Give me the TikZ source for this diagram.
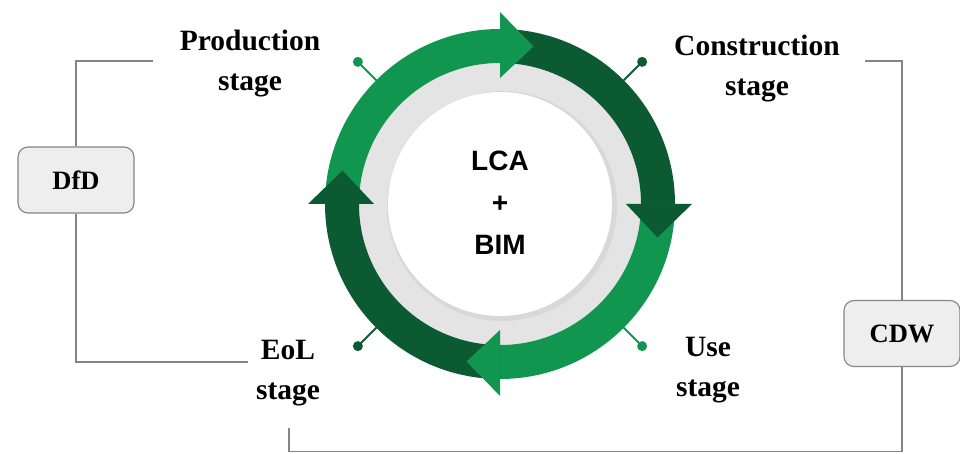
\documentclass[tikz,border=0pt]{standalone}
\usepackage{fontspec}
\setmainfont{Liberation Serif}
\newfontfamily\lsans{Liberation Sans}
\definecolor{lgreen}{HTML}{11964F}
\definecolor{dgreen}{HTML}{0B5A32}
\definecolor{ringgray}{HTML}{E4E4E4}
\definecolor{linegray}{HTML}{858585}
\definecolor{boxfill}{HTML}{EEEEEE}
\tikzset{
  stagelabel/.style={anchor=north, inner sep=0pt, align=center, font=\bfseries\fontsize{29.5}{40}\selectfont},
  sidebox/.style={draw=linegray, fill=boxfill, rounded corners=10pt, line width=1.1pt, minimum width=116pt, minimum height=66pt, inner sep=0pt, font=\bfseries\fontsize{26.5}{30}\selectfont},
  bracket/.style={draw=linegray, line width=1.1pt},
  pin/.style={line width=1.8pt}
}
\begin{document}
\begin{tikzpicture}[x=1pt,y=1pt]
\useasboundingbox (0,0) rectangle (960,453);
\coordinate (C) at (500,249);
\begin{scope}[shift={(500,249)}]
  % gray ring and white centre
  \fill[ringgray] (0,0) circle[radius=141];
  \fill[black,opacity=0.05] (2,-2) circle[radius=115];
  \fill[white] (0,0) circle[radius=112];
  % pins
  \draw[pin,lgreen] (135:175) -- (135:201); \fill[lgreen] (135:201) circle[radius=5];
  \draw[pin,dgreen] (45:175) -- (45:201);   \fill[dgreen] (45:201) circle[radius=5];
  \draw[pin,lgreen] (-45:175) -- (-45:201); \fill[lgreen] (-45:201) circle[radius=5];
  \draw[pin,dgreen] (-135:175) -- (-135:201); \fill[dgreen] (-135:201) circle[radius=5];
  % arc bodies
  \fill[lgreen] (180:175) arc[start angle=180, end angle=90, radius=175] -- (90:141) arc[start angle=90, end angle=180, radius=141] -- cycle;
  \fill[dgreen] (90:175) arc[start angle=90, end angle=0, radius=175] -- (0:141) arc[start angle=0, end angle=90, radius=141] -- cycle;
  \fill[lgreen] (0:175) arc[start angle=0, end angle=-90, radius=175] -- (-90:141) arc[start angle=-90, end angle=0, radius=141] -- cycle;
  \fill[dgreen] (-90:175) arc[start angle=-90, end angle=-180, radius=175] -- (-180:141) arc[start angle=-180, end angle=-90, radius=141] -- cycle;
  % arrow heads
  \fill[lgreen] (90:192) -- (78:161) -- (90:126) -- cycle;
  \fill[dgreen] (0:192) -- (-12:161) -- (0:126) -- cycle;
  \fill[lgreen] (-90:192) -- (-102:161) -- (-90:126) -- cycle;
  \fill[dgreen] (180:192) -- (168:161) -- (180:126) -- cycle;
\end{scope}
% centre text
\node[anchor=north, inner sep=0pt, align=center, font=\lsans\bfseries\fontsize{28}{42}\selectfont] (core) at (500,302) {LCA\\+\\BIM};
% stage labels
\node[stagelabel] (prod) at (250,423) {Production\\stage};
\node[stagelabel] (cons) at (757,418) {Construction\\stage};
\node[stagelabel] (use) at (708,116) {Use\\stage};
\node[stagelabel] (eol) at (288,113) {EoL\\stage};
% side boxes
\node[sidebox] (dfd) at (76,273) {DfD};
\node[sidebox] (cdw) at (902,119.5) {CDW};
% bracket coordinates
\coordinate (pt) at (153,392);
\coordinate (pb) at (248,91);
\coordinate (ct) at (865,392);
\coordinate (cb) at (289,25);
\draw[bracket] (pt) -- (dfd.north |- pt) -- (dfd.north);
\draw[bracket] (dfd.south) -- (dfd.south |- pb) -- (pb);
\draw[bracket] (ct) -- (cdw.north |- ct) -- (cdw.north);
\draw[bracket] (cdw.south) -- (cdw.south |- 0,1.2) -- (cb |- 0,1.2) -- (cb);
\end{tikzpicture}
\end{document}
